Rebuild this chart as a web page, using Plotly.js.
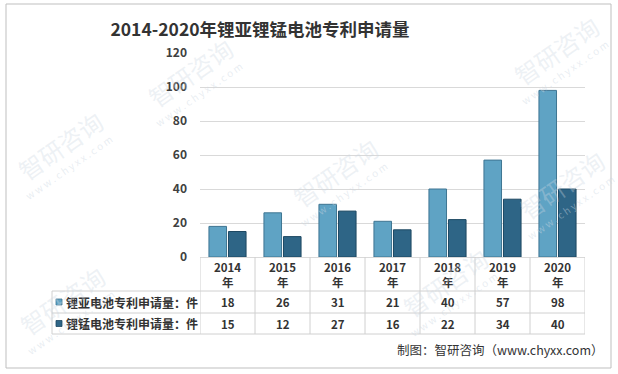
<!DOCTYPE html>
<html>
<head>
<meta charset="utf-8">
<script src="https://cdn.plot.ly/plotly-3.0.1.min.js"></script>
<style>html,body{margin:0;padding:0;background:#fff;}#chart{width:618px;height:374px;}</style>
</head>
<body>
<div id="chart"></div>
<script>
const years = ['2014','2015','2016','2017','2018','2019','2020'];
const seriesNames = ['锂亚电池专利申请量：件', '锂锰电池专利申请量：件'];
const liSoCl2 = [18, 26, 31, 21, 40, 57, 98];
const liMn = [15, 12, 27, 16, 22, 34, 40];
const yTicks = [0, 20, 40, 60, 80, 100, 120];
const titleText = '2014-2020年锂亚锂锰电池专利申请量';
const sourceText = '制图：智研咨询（www.chyxx.com）';

const W = 618, H = 374;
const L = 200, R = 33, T = 53, B = 117;
const pw = W - L - R, ph = H - T - B;
const px = x => (x - L) / pw;
const py = y => (H - B - y) / ph;

const colors = ['#5fa3c4', '#2e6586'];
const lineColors = ['#3e7592', '#1d4862'];
const font = '"Noto Sans CJK SC", "Noto Sans", sans-serif';
const gridC = '#d9d9d9';

const traces = [liSoCl2, liMn].map((vals, k) => ({
  type: 'bar', x: years, y: vals, name: seriesNames[k],
  marker: {color: colors[k], line: {color: lineColors[k], width: 1}},
  hoverinfo: 'x+y'
}));

const shapes = [];
const annotations = [];
const rowHead = [257, 291], row1 = [291, 313], row2 = [313, 334];
const tableColor = '#d0d0d0';
for (let i = 0; i <= years.length; i++) {
  shapes.push({type: 'line', xref: 'x', yref: 'paper', x0: i - 0.5, x1: i - 0.5,
    y0: py(rowHead[0]), y1: py(row2[1]), line: {color: tableColor, width: 1}});
}
[row1[0], row2[0], row2[1]].forEach(yy => {
  shapes.push({type: 'line', xref: 'paper', yref: 'paper', x0: px(52), x1: 1,
    y0: py(yy), y1: py(yy), line: {color: tableColor, width: 1}});
});
shapes.push({type: 'line', xref: 'paper', yref: 'paper', x0: px(52), x1: px(52),
  y0: py(row1[0]), y1: py(row2[1]), line: {color: tableColor, width: 1}});
shapes.push({type: 'rect', xref: 'paper', yref: 'paper', x0: px(6), x1: px(611),
  y0: py(368), y1: py(4), line: {color: '#bfbfbf', width: 1}, layer: 'below'});

const cell = (x, xref, y, text, size, xanchor) => ({
  xref: xref, yref: 'paper', x: x, y: py(y), text: text, showarrow: false,
  xanchor: xanchor || 'center', yanchor: 'middle',
  font: {family: font, size: size, color: '#333'}
});

years.forEach((yr, i) => {
  annotations.push(cell(i, 'x', 267, '<b>' + yr + '</b>', 11.5));
  annotations.push(cell(i, 'x', 282, '<b>年</b>', 11.5));
  annotations.push(cell(i, 'x', 302, '<b>' + liSoCl2[i] + '</b>', 11.5));
  annotations.push(cell(i, 'x', 323.5, '<b>' + liMn[i] + '</b>', 11.5));
});
[[302, 0], [323.5, 1]].forEach(([yy, k]) => {
  shapes.push({type: 'rect', xref: 'paper', yref: 'paper', x0: px(56), x1: px(62),
    y0: py(yy + 3), y1: py(yy - 3), fillcolor: colors[k], line: {color: lineColors[k], width: 0.8}});
  annotations.push(cell(px(64), 'paper', yy, '<b>' + seriesNames[k] + '</b>', 12, 'left'));
});
annotations.push({xref: 'paper', yref: 'paper', x: px(606), y: py(349), xanchor: 'right', yanchor: 'middle',
  text: sourceText, showarrow: false, font: {family: font, size: 12.5, color: '#333'}});

// watermarks
const wm = [[190, 72], [60, 145], [335, 172], [562, 185], [445, 282], [62, 300], [556, 50]];
wm.forEach(([x, y]) => {
  annotations.push({xref: 'paper', yref: 'paper', x: px(x), y: py(y), text: '智研咨询',
    xanchor: 'center', yanchor: 'middle',
    showarrow: false, textangle: -35, font: {family: font, size: 24, color: 'rgba(205,215,226,0.35)'}});
  annotations.push({xref: 'paper', yref: 'paper', x: px(x + 8), y: py(y + 22), text: 'w w w . c h y x x . c o m',
    xanchor: 'center', yanchor: 'middle',
    showarrow: false, textangle: -35, font: {family: font, size: 10, color: 'rgba(205,215,226,0.45)'}});
});

const layout = {
  width: W, height: H,
  margin: {l: L, r: R, t: T, b: B},
  paper_bgcolor: '#fff', plot_bgcolor: '#fff',
  title: {text: '<b>' + titleText + '</b>', x: 260 / W, xref: 'container', xanchor: 'center',
    y: 1 - 30 / H, yanchor: 'middle', font: {family: font, size: 17.5, color: '#333'}},
  showlegend: false,
  barmode: 'group', bargap: 0.29, bargroupgap: 0.1,
  xaxis: {type: 'category', range: [-0.5, years.length - 0.5], showticklabels: false,
    showgrid: false, zeroline: false, showline: false, ticks: ''},
  yaxis: {range: [0, 120], tickvals: yTicks, ticktext: yTicks.map(v => '<b>' + v + '</b>'),
    showgrid: true, gridcolor: gridC, gridwidth: 1, zeroline: true, zerolinecolor: gridC,
    showline: false, ticks: '', ticklabelstandoff: 12,
    tickfont: {family: font, size: 12, color: '#404040'}},
  shapes: shapes,
  annotations: annotations
};
Plotly.newPlot('chart', traces, layout, {displayModeBar: false, staticPlot: true});
</script>
</body>
</html>
